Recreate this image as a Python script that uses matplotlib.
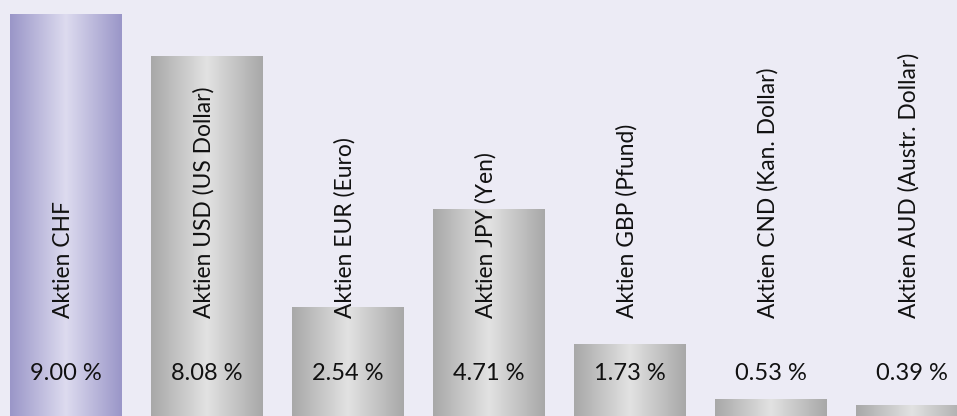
import matplotlib.pyplot as plt
import numpy as np
from matplotlib.colors import LinearSegmentedColormap

categories = ['Aktien CHF', 'Aktien USD (US Dollar)', 'Aktien EUR (Euro)', 'Aktien JPY (Yen)',
              'Aktien GBP (Pfund)', 'Aktien CND (Kan. Dollar)', 'Aktien AUD (Austr. Dollar)']
values = [9.00, 8.08, 2.54, 4.71, 1.73, 0.53, 0.39]
value_labels = ['9.00 %', '8.08 %', '2.54 %', '4.71 %', '1.73 %', '0.53 %', '0.39 %']
highlight = [True, False, False, False, False, False, False]

bg = '#ecebf5'
purple = LinearSegmentedColormap.from_list('p', ['#9a96c8', '#dddbef', '#9a96c8'])
grey = LinearSegmentedColormap.from_list('g', ['#a8a8a8', '#e2e2e2', '#a8a8a8'])

plt.rcParams['font.family'] = ['Lato', 'DejaVu Sans']

fig = plt.figure(figsize=(9.57, 4.16), dpi=100, facecolor=bg)
ax = fig.add_axes([0, 0, 1, 1])
ax.set_facecolor(bg)

x = np.arange(len(categories))
bars = ax.bar(x, values, width=0.794, color='none', linewidth=0)

grad = np.linspace(0, 1, 256).reshape(1, -1)
for bar, hl in zip(bars, highlight):
    x0, y0 = bar.get_x(), bar.get_y()
    im = ax.imshow(grad, cmap=purple if hl else grey, aspect='auto',
                   extent=[x0, x0 + bar.get_width(), y0, y0 + bar.get_height()],
                   interpolation='bicubic', zorder=2)
    im.set_clip_path(bar)

for xi, cat, lab in zip(x, categories, value_labels):
    ax.text(xi - 0.02, 2.31, cat, rotation=90, ha='center', va='bottom', fontsize=16.4,
            color='#111111', zorder=3)
    ax.text(xi, 1.09, lab, ha='center', va='center', fontsize=17,
            color='#111111', zorder=3)

ax.set_xlim(-0.468, 6.319)
ax.set_ylim(0.148, 9.31)
ax.axis('off')

fig.savefig('out.png', dpi=100, facecolor=bg)
